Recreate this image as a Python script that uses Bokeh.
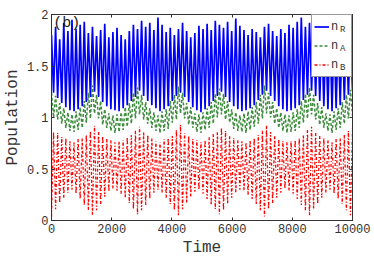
import numpy as np
from bokeh.plotting import figure
from bokeh.models import (Range1d, LinearAxis, FixedTicker, NumeralTickFormatter,
                          CustomJSTickFormatter, Legend, LegendItem, Label)
from bokeh.embed import file_html
from bokeh.resources import INLINE

# ---- data: per-cycle peak / trough values ----
x_ticks = [0, 2000, 4000, 6000, 8000, 10000]
y_ticks = [0, 0.5, 1, 1.5, 2]
series_names = ["n", "n", "n"]
series_subs = ["R", "A", "B"]

nR_hi = [1.80, 1.88, 1.76, 1.92, 1.84, 1.95, 1.86, 1.90, 1.93, 1.82,
         1.88, 1.79, 1.85, 1.91, 1.78, 1.83, 1.87, 1.80, 1.76, 1.84,
         1.90, 1.86, 1.94, 1.88, 1.92, 1.85, 1.97, 1.90, 1.83, 1.87,
         1.80, 1.86, 1.92, 1.84, 1.78, 1.82, 1.89, 1.86, 1.91, 1.85,
         1.94, 1.90, 1.87, 1.93, 1.84, 1.96, 1.89, 1.85, 1.80, 1.86,
         1.83, 1.78, 1.88, 1.91, 1.84, 1.79, 1.86, 1.82, 1.90, 1.87,
         1.93, 1.97, 1.88, 1.92, 1.85, 1.90, 1.83, 1.80, 1.87, 1.84,
         1.78, 1.86, 1.82, 1.88]
nR_lo = [1.24, 1.19, 1.14, 1.10, 1.07, 1.06, 1.08, 1.11, 1.15, 1.20,
         1.25, 1.20, 1.15, 1.11, 1.08, 1.07, 1.06, 1.09, 1.12, 1.16,
         1.20, 1.26, 1.21, 1.16, 1.12, 1.09, 1.06, 1.08, 1.11, 1.16,
         1.21, 1.24, 1.20, 1.15, 1.10, 1.07, 1.05, 1.08, 1.11, 1.16,
         1.21, 1.25, 1.20, 1.15, 1.11, 1.08, 1.06, 1.07, 1.09, 1.12,
         1.17, 1.22, 1.26, 1.21, 1.16, 1.11, 1.08, 1.06, 1.07, 1.09,
         1.12, 1.17, 1.22, 1.26, 1.21, 1.16, 1.11, 1.08, 1.06, 1.09,
         1.12, 1.17, 1.22, 1.26]
nA_hi = [1.24, 1.21, 1.14, 1.09, 1.05, 1.03, 1.06, 1.10, 1.16, 1.24,
         1.31, 1.22, 1.16, 1.08, 1.04, 1.02, 1.03, 1.05, 1.10, 1.14,
         1.24, 1.29, 1.22, 1.15, 1.09, 1.05, 1.02, 1.06, 1.08, 1.16,
         1.22, 1.30, 1.24, 1.14, 1.10, 1.04, 1.03, 1.05, 1.09, 1.15,
         1.23, 1.28, 1.23, 1.16, 1.08, 1.05, 1.02, 1.04, 1.06, 1.10,
         1.15, 1.22, 1.31, 1.24, 1.15, 1.09, 1.05, 1.03, 1.02, 1.05,
         1.08, 1.16, 1.23, 1.29, 1.22, 1.14, 1.10, 1.04, 1.03, 1.06,
         1.09, 1.15, 1.22, 1.27]
nA_lo = [1.00, 0.98, 0.94, 0.90, 0.87, 0.86, 0.88, 0.90, 0.95, 0.99,
         1.04, 0.99, 0.93, 0.90, 0.87, 0.85, 0.86, 0.88, 0.91, 0.94,
         0.99, 1.03, 0.98, 0.94, 0.90, 0.87, 0.85, 0.87, 0.89, 0.95,
         0.98, 1.04, 0.99, 0.93, 0.90, 0.86, 0.85, 0.88, 0.90, 0.94,
         1.00, 1.03, 0.98, 0.95, 0.89, 0.87, 0.86, 0.85, 0.88, 0.91,
         0.94, 0.99, 1.04, 1.00, 0.94, 0.90, 0.87, 0.85, 0.86, 0.87,
         0.90, 0.95, 0.99, 1.03, 0.98, 0.93, 0.90, 0.87, 0.85, 0.88,
         0.90, 0.94, 0.99, 1.02]
nB_hi = [0.86, 0.85, 0.81, 0.80, 0.77, 0.76, 0.79, 0.80, 0.83, 0.87,
         0.92, 0.86, 0.82, 0.79, 0.78, 0.76, 0.77, 0.78, 0.81, 0.83,
         0.87, 0.91, 0.86, 0.83, 0.80, 0.77, 0.76, 0.79, 0.80, 0.82,
         0.88, 0.93, 0.85, 0.82, 0.79, 0.78, 0.76, 0.78, 0.81, 0.84,
         0.86, 0.90, 0.87, 0.82, 0.80, 0.78, 0.77, 0.76, 0.78, 0.80,
         0.83, 0.87, 0.92, 0.86, 0.82, 0.79, 0.77, 0.76, 0.77, 0.78,
         0.80, 0.83, 0.88, 0.91, 0.85, 0.82, 0.80, 0.78, 0.76, 0.79,
         0.80, 0.83, 0.87, 0.90]
nB_lo = [0.04, 0.11, 0.17, 0.22, 0.27, 0.30, 0.26, 0.21, 0.15, 0.10,
         0.05, 0.10, 0.16, 0.23, 0.28, 0.31, 0.29, 0.26, 0.22, 0.17,
         0.11, 0.06, 0.10, 0.15, 0.21, 0.27, 0.30, 0.27, 0.22, 0.16,
         0.10, 0.05, 0.11, 0.17, 0.23, 0.28, 0.30, 0.26, 0.21, 0.15,
         0.11, 0.06, 0.10, 0.16, 0.22, 0.27, 0.30, 0.29, 0.25, 0.21,
         0.16, 0.10, 0.04, 0.11, 0.17, 0.22, 0.27, 0.31, 0.29, 0.26,
         0.21, 0.15, 0.10, 0.05, 0.11, 0.16, 0.22, 0.27, 0.30, 0.26,
         0.21, 0.16, 0.10, 0.05]

def interleave(first, second):
    out = []
    for a, b in zip(first, second):
        out += [a, b]
    return out

nR = interleave(nR_hi, nR_lo)
nA = interleave(nA_hi, nA_lo)
nB = interleave(nB_lo, nB_hi)
t = list(np.linspace(0, 10000, len(nR)))

FONT = "Liberation Mono"
AX = "#333333"

p = figure(width=374, height=259, output_backend="svg", toolbar_location=None,
           x_range=Range1d(0, 10000), y_range=Range1d(0, 2),
           min_border_left=50, min_border_right=22, min_border_top=14, min_border_bottom=38)
p.outline_line_color = AX
p.grid.visible = False
p.background_fill_color = "white"

rR = p.line(t, nR, line_color="#0000ff", line_width=1.7)
rA = p.line(t, nA, line_color="#3c8c3c", line_width=1.5, line_dash="3 2")
rB = p.line(t, nB, line_color="#ff0000", line_width=1.3, line_dash="3 2 1 2")

for ax in (p.xaxis[0], p.yaxis[0]):
    ax.major_tick_in = 3
    ax.major_tick_out = 0
    ax.minor_tick_line_color = None
    ax.axis_line_color = AX
    ax.major_tick_line_color = AX
    ax.major_label_text_font = FONT
    ax.major_label_text_font_size = "12px"
    ax.major_label_text_color = AX
    ax.axis_label_text_font = FONT
    ax.axis_label_text_font_size = "16px"
    ax.axis_label_text_font_style = "normal"
    ax.axis_label_text_color = AX

p.xaxis[0].major_label_standoff = 3
p.xaxis[0].axis_label_standoff = 3
p.yaxis[0].major_label_standoff = 3
p.yaxis[0].axis_label_standoff = 2

p.xaxis[0].ticker = FixedTicker(ticks=x_ticks)
p.yaxis[0].ticker = FixedTicker(ticks=y_ticks)
p.xaxis[0].formatter = NumeralTickFormatter(format="0")
p.yaxis[0].formatter = NumeralTickFormatter(format="0.[0]")
p.xaxis[0].axis_label = "Time"
p.yaxis[0].axis_label = "Population"

blank = CustomJSTickFormatter(code="return ''")
top = LinearAxis(ticker=FixedTicker(ticks=x_ticks), formatter=blank,
                 major_tick_in=3, major_tick_out=0, minor_tick_line_color=None,
                 axis_line_color=AX, major_tick_line_color=AX, major_label_standoff=0)
right = LinearAxis(ticker=FixedTicker(ticks=y_ticks), formatter=blank,
                   major_tick_in=3, major_tick_out=0, minor_tick_line_color=None,
                   axis_line_color=AX, major_tick_line_color=AX, major_label_standoff=0)
p.add_layout(top, "above")
p.add_layout(right, "right")

# main legend (line sample + "n")
legend = Legend(items=[LegendItem(label=nm, renderers=[r])
                       for nm, r in zip(series_names, [rR, rA, rB])],
                location="top_right", margin=0, padding=2, spacing=0,
                label_height=19, glyph_height=19, glyph_width=15, label_standoff=2,
                label_width=18, label_text_font=FONT, label_text_font_size="12px",
                label_text_color=AX, border_line_color=AX, border_line_width=1,
                background_fill_alpha=1)
p.add_layout(legend)

# overlay legend carrying the subscripts (invisible glyphs, transparent box),
# its larger padding shifts the subscripts a few pixels below each "n"
ghosts = [p.line([], [], line_alpha=0) for _ in series_subs]
legend_sub = Legend(items=[LegendItem(label=s, renderers=[g])
                           for s, g in zip(series_subs, ghosts)],
                    location="top_right", margin=0, padding=6, spacing=0,
                    label_height=19, glyph_height=19, glyph_width=15, label_standoff=10,
                    label_width=6, label_text_font=FONT, label_text_font_size="9px",
                    label_text_color=AX,
                    border_line_alpha=0, background_fill_alpha=0)
p.add_layout(legend_sub)

p.add_layout(Label(x=60, y=1.995, text="(b)", text_font=FONT, text_font_size="15px",
                   text_color="#222222", text_baseline="top"))

open("out.html", "w").write(file_html(p, INLINE))
